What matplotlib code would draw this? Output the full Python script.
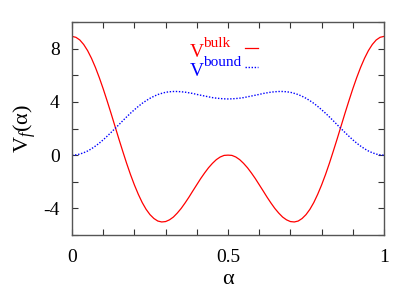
import matplotlib
matplotlib.use("Agg")
import matplotlib.pyplot as plt

plt.rcParams['font.family'] = ['Liberation Serif', 'DejaVu Serif']
plt.rcParams['mathtext.fontset'] = 'custom'
plt.rcParams['mathtext.rm'] = 'Liberation Serif'
plt.rcParams['mathtext.it'] = 'Liberation Serif:italic'
plt.rcParams['mathtext.bf'] = 'Liberation Serif:bold'
plt.rcParams['axes.unicode_minus'] = False

# half of each curve (0 .. 0.5); curves are symmetric about 0.5
alpha_half = [0.0, 0.0125, 0.025, 0.0375, 0.05, 0.0625, 0.075, 0.0875, 0.1, 0.1125,
              0.125, 0.1375, 0.15, 0.1625, 0.175, 0.1875, 0.2, 0.2125, 0.225, 0.2375,
              0.25, 0.2625, 0.275, 0.2875, 0.3, 0.3125, 0.325, 0.3375, 0.35, 0.3625,
              0.375, 0.3875, 0.4, 0.4125, 0.425, 0.4375, 0.45, 0.4625, 0.475, 0.4875, 0.5]
bulk_half = [8.92, 8.85, 8.65, 8.31, 7.85, 7.27, 6.59, 5.82, 4.98, 4.08,
             3.15, 2.19, 1.23, 0.30, -0.61, -1.46, -2.24, -2.94, -3.56, -4.07,
             -4.47, -4.76, -4.95, -5.02, -4.99, -4.86, -4.65, -4.35, -4.00, -3.59,
             -3.15, -2.68, -2.22, -1.76, -1.34, -0.95, -0.62, -0.34, -0.14, -0.02, 0.0]
bound_half = [0.0, 0.02, 0.08, 0.18, 0.31, 0.48, 0.68, 0.90, 1.15, 1.42,
              1.70, 1.99, 2.28, 2.58, 2.87, 3.15, 3.41, 3.66, 3.89, 4.09,
              4.27, 4.42, 4.55, 4.64, 4.72, 4.76, 4.78, 4.78, 4.76, 4.73,
              4.68, 4.63, 4.56, 4.50, 4.44, 4.38, 4.32, 4.28, 4.25, 4.23, 4.22]

alpha = alpha_half + [1.0 - a for a in alpha_half[-2::-1]]
bulk = bulk_half + bulk_half[-2::-1]
bound = bound_half + bound_half[-2::-1]

fig = plt.figure(figsize=(4.15, 2.91), dpi=100)
ax = fig.add_axes([0.1735, 0.1924, 0.7518, 0.732])

bulk_style = dict(color='red', linestyle='-', linewidth=0.9)
bound_style = dict(color='blue', linestyle=(0, (1, 1.2)), linewidth=1.0)
ax.plot(alpha, bulk, **bulk_style)
ax.plot(alpha, bound, **bound_style)

ax.set_xlim(0, 1)
ax.set_ylim(-6, 10)
ax.set_xticks([0, 0.5, 1])
ax.set_xticklabels(['0', '0.5', '1'])
ax.set_xticks([0.1, 0.2, 0.3, 0.4, 0.6, 0.7, 0.8, 0.9], minor=True)
ax.set_yticks([-4, 0, 4, 8])
ax.set_yticks([-6, -2, 2, 6, 10], minor=True)
ax.tick_params(which='both', direction='in', top=True, right=True, length=4,
               width=0.8, color='#333333', labelsize=14)
ax.tick_params(axis='x', pad=10)
ax.tick_params(axis='y', pad=9)
for s in ax.spines.values():
    s.set_color('#555555')
    s.set_linewidth(1.0)

ax.set_xlabel('α', fontsize=16, labelpad=3)
ax.set_ylabel(r'V$_{\mathit{f}}$(α)', fontsize=16, labelpad=4)

# gnuplot-style key: label on the left, sample on the right
key_x = 0.378
for txt, sup, base, col in [('V', 'bulk', 0.836, 'red'), ('V', 'bound', 0.746, 'blue')]:
    ax.text(key_x, base, txt, color=col, fontsize=14, transform=ax.transAxes,
            ha='left', va='baseline')
    ax.text(key_x + 0.042, base + 0.047, sup, color=col, fontsize=11,
            transform=ax.transAxes, ha='left', va='baseline')
ax.plot([0.555, 0.596], [0.878, 0.878], transform=ax.transAxes, **bulk_style)
ax.plot([0.555, 0.596], [0.79, 0.79], transform=ax.transAxes, **bound_style)

fig.savefig('out.png', dpi=100)
